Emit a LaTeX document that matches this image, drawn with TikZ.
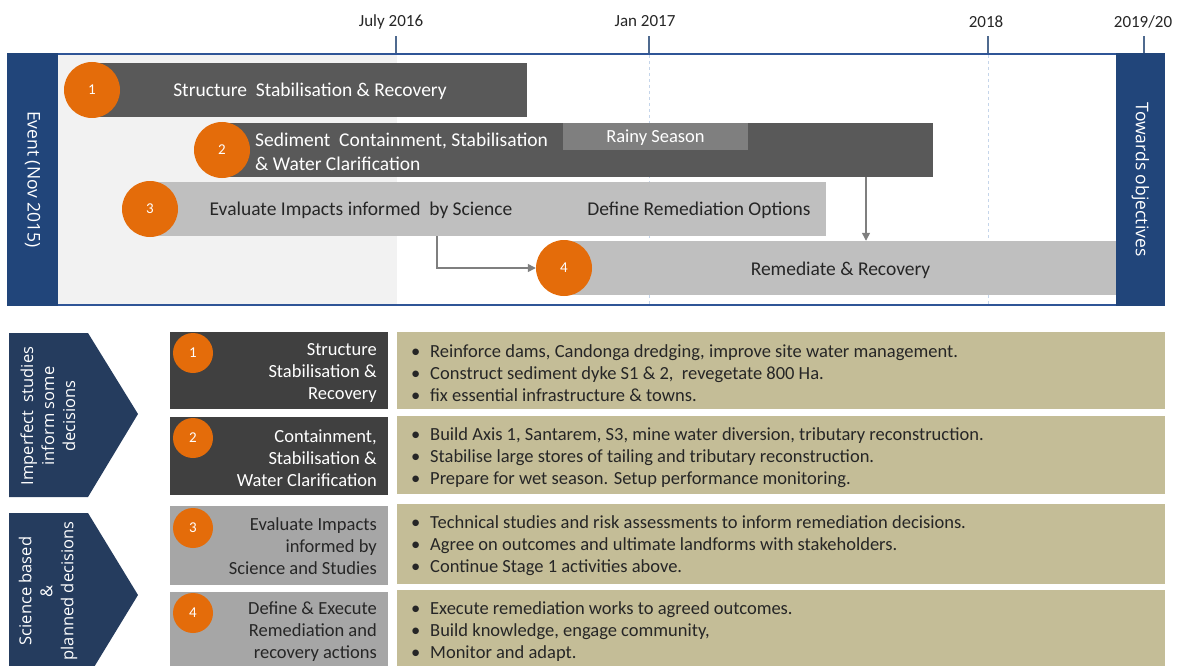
\documentclass[tikz,border=0pt]{standalone}
\usepackage{fontspec}
\setmainfont{Carlito}
\newfontfamily\segfont{Open Sans}
\usetikzlibrary{arrows.meta,calc}
\definecolor{navy}{HTML}{21457A}
\definecolor{chev}{HTML}{253C5E}
\definecolor{dgray}{HTML}{595959}
\definecolor{ddgray}{HTML}{404040}
\definecolor{lgray}{HTML}{BFBFBF}
\definecolor{mgray}{HTML}{A6A6A6}
\definecolor{rgray}{HTML}{7F7F7F}
\definecolor{bgray}{HTML}{F2F2F2}
\definecolor{orng}{HTML}{E46C0A}
\definecolor{khaki}{HTML}{C4BD97}
\definecolor{frameblue}{HTML}{2F5597}
\definecolor{dashblue}{HTML}{C5D5EA}
\definecolor{txt}{HTML}{262626}
\definecolor{tickc}{HTML}{4F6A8F}
\newcommand\bl{\makebox[19pt][l]{\textbullet}}
\begin{document}
\begin{tikzpicture}[x=1pt,y=-1pt,
  bar/.style={rectangle,inner sep=0,minimum height=54pt},
  numc/.style={circle,fill=orng,text=white,minimum size=56pt,inner sep=0,font=\fontsize{15}{16}\selectfont},
  nums/.style={circle,fill=orng,text=white,minimum size=40pt,inner sep=0,font=\fontsize{15}{16}\selectfont},
  bigtxt/.style={font=\fontsize{19.5}{24}\selectfont},
  sidetxt/.style={font=\segfont\fontsize{17.5}{20}\selectfont},
  ticklab/.style={font=\fontsize{17}{20}\selectfont,text=txt},
  tickline/.style={draw=tickc,line width=1.2pt},
  arr/.style={draw=rgray,line width=1.3pt,-{Triangle[length=8pt,width=8pt]}},
  lbox/.style={rectangle,inner sep=0,minimum width=218pt},
  rbox/.style={rectangle,inner sep=0,fill=khaki,minimum width=768pt},
  ltxt/.style={anchor=east,align=right,inner sep=0,font=\fontsize{18.5}{22}\selectfont},
  rtxt/.style={anchor=west,align=left,inner sep=0,text=txt,font=\fontsize{18.5}{22}\selectfont},
  chevtxt/.style={rotate=90,align=center,text=white,font=\segfont\fontsize{16.5}{21}\selectfont}
]
\useasboundingbox (0,0) rectangle (1177,666);
\clip (0,0) rectangle (1177,666);

% ---------- top timeline ----------
\fill[bgray] (58,55) rectangle (397,304);
\draw[dashblue,dashed,line width=0.8pt] (649,55) -- (649,304);
\draw[dashblue,dashed,line width=0.8pt] (988,55) -- (988,304);
\draw[frameblue,line width=2pt] (7,54) -- (1165,54);
\draw[frameblue,line width=2pt] (7,305) -- (1165,305);

% ticks
\node[ticklab] (tk1) at (391,21.5) {July 2016};
\node[ticklab] (tk2) at (645,21.5) {Jan 2017};
\node[ticklab] (tk3) at (986,21.5) {2018};
\node[ticklab] (tk4) at (1143,21.5) {2019/20};
\coordinate (p1) at (396,53); \coordinate (p2) at (649,53);
\coordinate (p3) at (988,53); \coordinate (p4) at (1144,53);
\draw[tickline] (p1) -- ++(0,-17);
\draw[tickline] (p2) -- ++(0,-17);
\draw[tickline] (p3) -- ++(0,-17);
\draw[tickline] (p4) -- ++(0,-17);

% side bars
\node[fill=navy,inner sep=0,minimum width=51pt,minimum height=253pt] (evbar) at (32.5,179.5) {};
\node[rotate=-90,text=white,sidetxt] (evtxt) at (evbar.center) {Event (Nov 2015)};
\node[fill=navy,inner sep=0,minimum width=49pt,minimum height=253pt] (tobar) at (1140.5,179.5) {};
\node[rotate=-90,text=white,sidetxt] (totxt) at (tobar.center) {Towards objectives};

% bars
\node[bar,fill=dgray,minimum width=432pt] (bar1) at (311,90) {};
\node[text=white,bigtxt] (t1) at (310,91.5) {Structure~ Stabilisation \& Recovery};
\node[numc] (c1) at (92,90) {1};

\node[bar,fill=dgray,minimum width=711pt] (bar2) at (577.5,150) {};
\node[bar,fill=rgray,minimum width=185pt,minimum height=27pt] (rainy) at (655.5,136.5) {};
\node[text=white,font=\fontsize{18.5}{20}\selectfont] (rainyt) at (655.5,138) {Rainy Season};
\node[anchor=west,align=left,text=white,bigtxt,inner sep=0] (t2) at (255,151.5) {Sediment~ Containment, Stabilisation\\\& Water Clarification};
\node[numc] (c2) at (222,150) {2};

\node[bar,fill=lgray,minimum width=676pt] (bar3) at (488,209) {};
\node[text=txt,bigtxt] (t3a) at (361,210.5) {Evaluate Impacts informed~ by Science};
\node[text=txt,bigtxt] (t3b) at (699,210.5) {Define Remediation Options};
\node[numc] (c3) at (150,209) {3};

\node[bar,fill=lgray,minimum width=551pt] (bar4) at (840.5,268) {};
\node[text=txt,bigtxt] (t4) at (840.5,270) {Remediate \& Recovery};
\node[numc] (c4) at (564,268) {4};

\coordinate (a3) at (437,236);
\draw[arr] (a3) |- (c4.west);
\coordinate (a2) at (866,177);
\draw[arr] (a2) -- (a2 |- bar4.north);

% ---------- lower table ----------
\fill[chev] (9,333) -- (88,333) -- (138,414) -- (88,497) -- (9,497) -- cycle;
\node[chevtxt] (ch1) at (48,416) {Imperfect~ studies\\inform some\\decisions};
\fill[chev] (9,513) -- (88,513) -- (138,595) -- (88,677) -- (9,677) -- cycle;
\node[chevtxt] (ch2) at (48,591) {Science based\\\&\\planned decisions};

\node[lbox,fill=ddgray,minimum height=77pt] (l1) at (279,370.5) {};
\node[lbox,fill=ddgray,minimum height=78pt] (l2) at (279,456) {};
\node[lbox,fill=mgray,minimum height=79pt] (l3) at (279,545.5) {};
\node[lbox,fill=mgray,minimum height=78pt] (l4) at (279,631) {};

\node[rbox,minimum height=77pt] (r1) at (781,370.5) {};
\node[rbox,minimum height=78pt] (r2) at (781,455) {};
\node[rbox,minimum height=80pt] (r3) at (781,544) {};
\node[rbox,minimum height=80pt] (r4) at (781,630) {};

\node[nums] (n1) at (193,353) {1};
\node[nums] (n2) at (193,438) {2};
\node[nums] (n3) at (193,528) {3};
\node[nums] (n4) at (193,613) {4};

\node[ltxt,text=white] (lt1) at (377,373) {Structure\\Stabilisation \&\\Recovery};
\node[ltxt,text=white] (lt2) at (377,458) {Containment,\\Stabilisation \&\\Water Clarification};
\node[ltxt,text=txt] (lt3) at (377,546) {Evaluate Impacts\\informed by\\Science and Studies};
\node[ltxt,text=txt] (lt4) at (377,632) {Define \& Execute\\Remediation and\\recovery actions};

\node[rtxt] (rt1) at (411,373) {\bl Reinforce dams, Candonga dredging, improve site water management.\\\bl Construct sediment dyke S1 \& 2,~ revegetate 800 Ha.\\\bl fix essential infrastructure \& towns.};
\node[rtxt] (rt2) at (411,458) {\bl Build Axis 1, Santarem, S3, mine water diversion, tributary reconstruction.\\\bl Stabilise large stores of tailing and tributary reconstruction.\\\bl Prepare for wet season. Setup performance monitoring.};
\node[rtxt] (rt3) at (411,546) {\bl Technical studies and risk assessments to inform remediation decisions.\\\bl Agree on outcomes and ultimate landforms with stakeholders.\\\bl Continue Stage 1 activities above.};
\node[rtxt] (rt4) at (411,632) {\bl Execute remediation works to agreed outcomes.\\\bl Build knowledge, engage community,\\\bl Monitor and adapt.};
\end{tikzpicture}
\end{document}
